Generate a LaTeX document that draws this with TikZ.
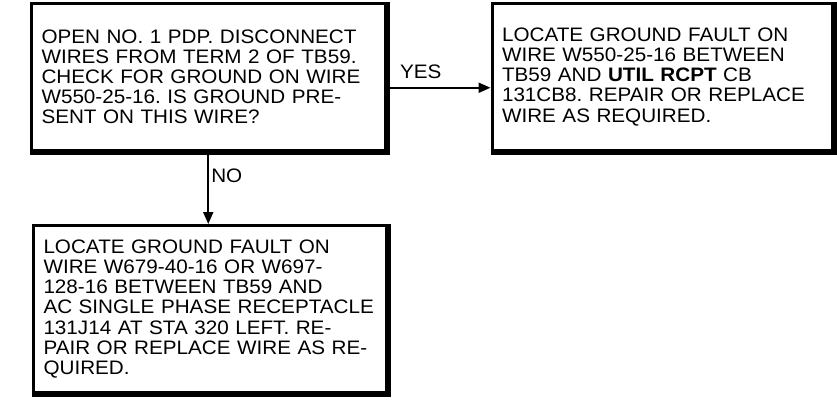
\documentclass[tikz,border=0pt]{standalone}
\usepackage{fontspec}
\setmainfont{Liberation Sans}[FakeStretch=1.06]
\usetikzlibrary{arrows.meta,positioning}
\frenchspacing

\begin{document}
\begin{tikzpicture}[
        x=1pt, y=-1pt,
        box/.style={
            rectangle,
            draw=black,
            line width=3pt,
            inner xsep=10pt,
            align=left,
            font=\fontsize{19.5}{20.2}\selectfont
        },
        heavy_edge/.style={
            draw=black,
            line width=6pt
        },
        flow/.style={
            draw=black,
            line width=2pt,
            -{Triangle[length=12pt,width=10pt]}
        },
        lbl/.style={
            font=\fontsize{19.5}{20.2}\selectfont,
            inner sep=2pt
        }
    ]
        \useasboundingbox (0,0) rectangle (837,401);

        % Boxes
        \node[box, text width=333.5pt, minimum height=146.5pt] (b1) at (208.25, 76.75)
            {OPEN NO. 1 PDP. DISCONNECT\\
             WIRES FROM TERM 2 OF TB59.\\
             CHECK FOR GROUND ON WIRE\\
             W550-25-16. IS GROUND PRE-\\
             SENT ON THIS WIRE?};
        \node[box, text width=320pt, minimum height=146.5pt] (b2) at (662, 76.75)
            {LOCATE GROUND FAULT ON\\
             WIRE W550-25-16 BETWEEN\\
             TB59 AND \textbf{UTIL RCPT} CB\\
             131CB8. REPAIR OR REPLACE\\
             WIRE AS REQUIRED.};
        \node[box, text width=332.5pt, minimum height=167pt] (b3) at (209.75, 309)
            {LOCATE GROUND FAULT ON\\
             WIRE W679-40-16 OR W697-\\
             128-16 BETWEEN TB59 AND\\
             AC SINGLE PHASE RECEPTACLE\\
             131J14 AT STA 320 LEFT. RE-\\
             PAIR OR REPLACE WIRE AS RE-\\
             QUIRED.};

        % Heavy bottom and right edges
        \draw[heavy_edge] (b1.south west) -- (b1.south east) -- (b1.north east);
        \draw[heavy_edge] (b2.south west) -- (b2.south east) -- (b2.north east);
        \draw[heavy_edge] (b3.south west) -- (b3.south east) -- (b3.north east);

        % Arrows
        \draw[flow] ([yshift=-11pt]b1.east) --
            node[lbl, above=6pt, pos=0.33] (yes) {YES}
            ([yshift=-11pt]b1.east -| b2.west);
        \draw[flow] (b1.south) --
            node[lbl, right, pos=0.33] (no) {NO}
            (b1.south |- b3.north);
\end{tikzpicture}
\end{document}
